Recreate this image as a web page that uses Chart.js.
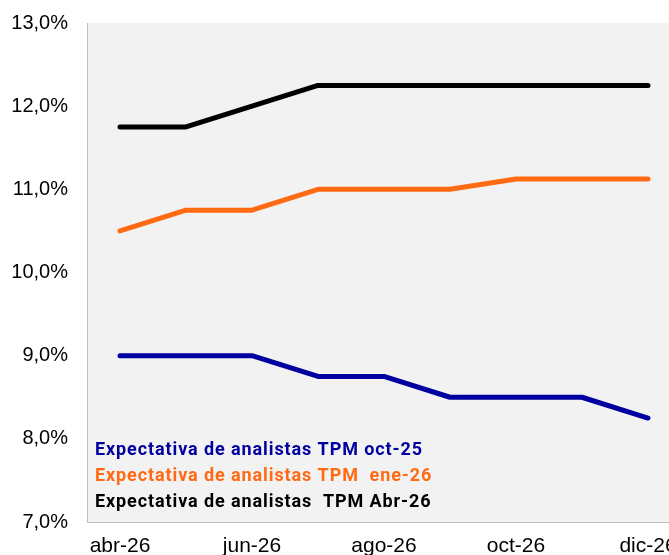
<!DOCTYPE html>
<html>
<head>
<meta charset="utf-8">
<script src="https://cdn.jsdelivr.net/npm/chart.js@4"></script>
<style>
    html, body { margin: 0; padding: 0; background: #ffffff; overflow: hidden; }
    #wrap { width: 681px; height: 555px; }
</style>
</head>
<body>
<div id="wrap"><canvas id="tpmChart"></canvas></div>
<script>
const meses = ['abr-26', 'may-26', 'jun-26', 'jul-26', 'ago-26', 'sep-26', 'oct-26', 'nov-26', 'dic-26'];
const tpmOct25 = [9.0, 9.0, 9.0, 8.75, 8.75, 8.5, 8.5, 8.5, 8.25];
const tpmEne26 = [10.5, 10.75, 10.75, 11.0, 11.0, 11.0, 11.125, 11.125, 11.125];
const tpmAbr26 = [11.75, 11.75, 12.0, 12.25, 12.25, 12.25, 12.25, 12.25, 12.25];
const nombres = [
    'Expectativa de analistas TPM oct-25',
    'Expectativa de analistas TPM  ene-26',
    'Expectativa de analistas  TPM Abr-26'
];
const colores = ['#0000a0', '#ff6a13', '#000000'];

const fondoGris = {
    id: 'fondoGris',
    beforeDraw(chart) {
        const a = chart.chartArea;
        const ctx = chart.ctx;
        ctx.save();
        ctx.fillStyle = '#f2f2f2';
        ctx.fillRect(a.left, a.top, a.right - a.left, a.bottom - a.top);
        ctx.restore();
    }
};

// leyenda dentro del area, solo texto de color
const leyendaTexto = {
    id: 'leyendaTexto',
    afterDatasetsDraw(chart) {
        const ctx = chart.ctx;
        const a = chart.chartArea;
        ctx.save();
        ctx.font = 'bold 18px Roboto, "Liberation Sans", sans-serif';
        ctx.letterSpacing = '0.9px';
        ctx.textBaseline = 'alphabetic';
        ctx.textAlign = 'left';
        chart.data.datasets.forEach((ds, i) => {
            ctx.fillStyle = ds.borderColor;
            ctx.fillText(ds.label, a.left + 8, 455 + i * 26.2);
        });
        ctx.restore();
    }
};

const ctx = document.getElementById('tpmChart').getContext('2d');
new Chart(ctx, {
    type: 'line',
    data: {
        labels: meses,
        datasets: [
            { label: nombres[0], data: tpmOct25, borderColor: colores[0] },
            { label: nombres[1], data: tpmEne26, borderColor: colores[1] },
            { label: nombres[2], data: tpmAbr26, borderColor: colores[2] }
        ].map(d => Object.assign(d, {
            borderWidth: 5,
            pointRadius: 0,
            tension: 0,
            fill: false,
            borderCapStyle: 'round',
            borderJoinStyle: 'round'
        }))
    },
    options: {
        responsive: true,
        maintainAspectRatio: false,
        animation: false,
        layout: { padding: { top: 23, left: 0, right: 0, bottom: 0 } },
        plugins: {
            legend: { display: false },
            tooltip: { enabled: false }
        },
        scales: {
            x: {
                offset: true,
                grid: { display: false, drawTicks: false },
                border: { display: true, color: '#bfbfbf', width: 1 },
                ticks: {
                    autoSkip: false,
                    maxRotation: 0,
                    padding: 12,
                    color: '#000',
                    font: { family: '"Liberation Sans", Arial, sans-serif', size: 21 },
                    callback: function(v, i) { return i % 2 === 0 ? meses[i] : ''; }
                },
                afterFit(scale) {
                    scale.height = 33;
                    scale.paddingLeft = 0;
                    scale.paddingRight = 0;
                }
            },
            y: {
                min: 7,
                max: 13,
                grid: { display: false, drawTicks: false },
                border: { display: true, color: '#bfbfbf', width: 1 },
                ticks: {
                    stepSize: 1,
                    padding: 19,
                    color: '#000',
                    font: { family: '"Liberation Sans", Arial, sans-serif', size: 20 },
                    callback: v => v.toFixed(1).replace('.', ',') + '%'
                },
                afterFit(scale) {
                    scale.width = 87;
                    scale.paddingTop = 0;
                    scale.paddingBottom = 0;
                }
            }
        }
    },
    plugins: [fondoGris, leyendaTexto]
});
</script>
</body>
</html>
